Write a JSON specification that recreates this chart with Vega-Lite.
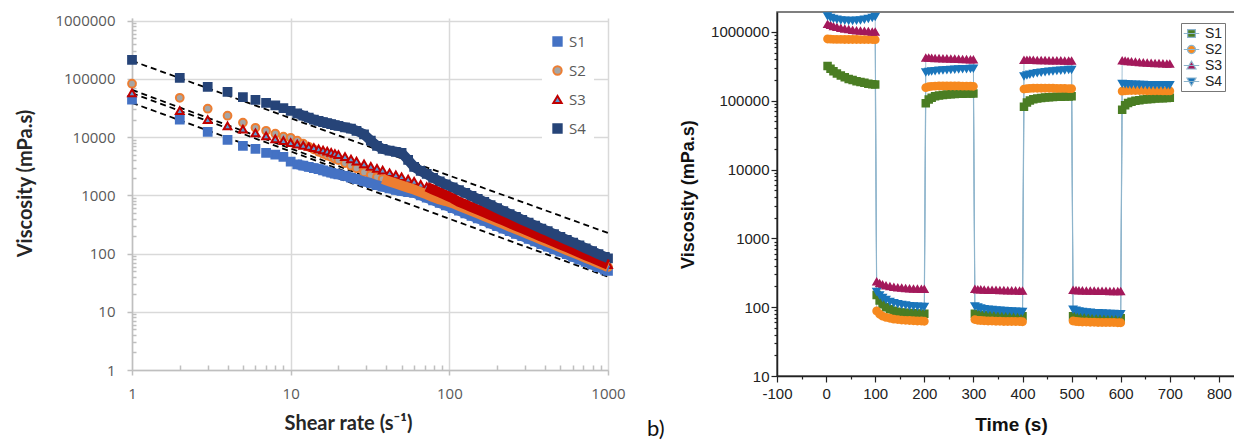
{
  "$schema": "https://vega.github.io/schema/vega-lite/v6.json",
  "background": "white",
  "padding": {"left": 15, "top": 11, "right": 0, "bottom": 0},
  "config": {"view": {"stroke": null}},
  "datasets": {
    "fits": [
      {"f":"F1","x":1,"v":39000},{"f":"F1","x":1000,"v":40},
      {"f":"F2","x":1,"v":65000},{"f":"F2","x":1000,"v":62},
      {"f":"F3","x":1,"v":57000},{"f":"F3","x":1000,"v":57},
      {"f":"F4","x":1,"v":205000},{"f":"F4","x":1000,"v":226}
    ],
    "shear": [
      {"s":"S1","x":1,"v":44000},{"s":"S1","x":2,"v":20000},{"s":"S1","x":3,"v":12300},{"s":"S1","x":4,"v":9000},{"s":"S1","x":5,"v":7100},{"s":"S1","x":6,"v":6300},{"s":"S1","x":7,"v":5400},{"s":"S1","x":8,"v":5000},{"s":"S1","x":9,"v":4600},{"s":"S1","x":10,"v":3800},
      {"s":"S1","x":11,"v":3400},{"s":"S1","x":12,"v":3240},{"s":"S1","x":13,"v":3090},{"s":"S1","x":14,"v":2950},{"s":"S1","x":15,"v":2820},{"s":"S1","x":16,"v":2690},{"s":"S1","x":17,"v":2570},{"s":"S1","x":18,"v":2450},{"s":"S1","x":19,"v":2370},{"s":"S1","x":20,"v":2290},
      {"s":"S1","x":22,"v":2160},{"s":"S1","x":24,"v":2020},{"s":"S1","x":26,"v":1910},{"s":"S1","x":29,"v":1740},{"s":"S1","x":32,"v":1620},{"s":"S1","x":35,"v":1500},{"s":"S1","x":38,"v":1410},{"s":"S1","x":42,"v":1320},{"s":"S1","x":46,"v":1240},{"s":"S1","x":50,"v":1190},
      {"s":"S1","x":55,"v":1140},{"s":"S1","x":60,"v":1110},{"s":"S1","x":66,"v":1000},{"s":"S1","x":72,"v":912},{"s":"S1","x":79,"v":822},{"s":"S1","x":87,"v":741},{"s":"S1","x":95,"v":676},{"s":"S1","x":105,"v":603},{"s":"S1","x":115,"v":545},{"s":"S1","x":126,"v":493},
      {"s":"S1","x":138,"v":446},{"s":"S1","x":151,"v":404},{"s":"S1","x":166,"v":364},{"s":"S1","x":182,"v":329},{"s":"S1","x":200,"v":296},{"s":"S1","x":219,"v":269},{"s":"S1","x":240,"v":243},{"s":"S1","x":263,"v":219},{"s":"S1","x":288,"v":199},{"s":"S1","x":316,"v":179},
      {"s":"S1","x":347,"v":162},{"s":"S1","x":380,"v":146},{"s":"S1","x":417,"v":132},{"s":"S1","x":457,"v":119},{"s":"S1","x":501,"v":108},{"s":"S1","x":550,"v":97.5},{"s":"S1","x":603,"v":88.1},{"s":"S1","x":661,"v":79.6},{"s":"S1","x":724,"v":71.9},{"s":"S1","x":794,"v":65},
      {"s":"S1","x":871,"v":58.7},{"s":"S1","x":955,"v":53.1},{"s":"S1","x":1000,"v":50.5},
      {"s":"S2","x":1,"v":83000},{"s":"S2","x":2,"v":47500},{"s":"S2","x":3,"v":30900},{"s":"S2","x":4,"v":23400},{"s":"S2","x":5,"v":17800},{"s":"S2","x":6,"v":14500},{"s":"S2","x":7,"v":12900},{"s":"S2","x":8,"v":11500},{"s":"S2","x":9,"v":10200},{"s":"S2","x":10,"v":9770},
      {"s":"S2","x":11,"v":8710},{"s":"S2","x":12,"v":7760},{"s":"S2","x":13,"v":6840},{"s":"S2","x":14,"v":6170},{"s":"S2","x":15,"v":5620},{"s":"S2","x":16,"v":5190},{"s":"S2","x":17,"v":4840},{"s":"S2","x":18,"v":4570},{"s":"S2","x":19,"v":4270},{"s":"S2","x":20,"v":4030},
      {"s":"S2","x":22,"v":3590},{"s":"S2","x":24,"v":3240},{"s":"S2","x":26,"v":2920},{"s":"S2","x":29,"v":2510},{"s":"S2","x":32,"v":2240},{"s":"S2","x":35,"v":2070},{"s":"S2","x":38,"v":1910},{"s":"S2","x":42,"v":1740},{"s":"S2","x":46,"v":1600},{"s":"S2","x":50,"v":1480},
      {"s":"S2","x":55,"v":1360},{"s":"S2","x":60,"v":1260},{"s":"S2","x":66,"v":1140},{"s":"S2","x":72,"v":1040},{"s":"S2","x":79,"v":933},{"s":"S2","x":87,"v":851},{"s":"S2","x":95,"v":800},{"s":"S2","x":105,"v":735},{"s":"S2","x":115,"v":664},{"s":"S2","x":126,"v":600},
      {"s":"S2","x":138,"v":541},{"s":"S2","x":151,"v":490},{"s":"S2","x":166,"v":441},{"s":"S2","x":182,"v":397},{"s":"S2","x":200,"v":357},{"s":"S2","x":219,"v":323},{"s":"S2","x":240,"v":291},{"s":"S2","x":263,"v":263},{"s":"S2","x":288,"v":238},{"s":"S2","x":316,"v":214},
      {"s":"S2","x":347,"v":193},{"s":"S2","x":380,"v":174},{"s":"S2","x":417,"v":157},{"s":"S2","x":457,"v":142},{"s":"S2","x":501,"v":128},{"s":"S2","x":550,"v":115},{"s":"S2","x":603,"v":104},{"s":"S2","x":661,"v":93.8},{"s":"S2","x":724,"v":84.5},{"s":"S2","x":794,"v":76.2},
      {"s":"S2","x":871,"v":68.7},{"s":"S2","x":955,"v":61.9},{"s":"S2","x":1000,"v":58.9},
      {"s":"S3","x":1,"v":57900},{"s":"S3","x":2,"v":28500},{"s":"S3","x":3,"v":20000},{"s":"S3","x":4,"v":15700},{"s":"S3","x":5,"v":13800},{"s":"S3","x":6,"v":11900},{"s":"S3","x":7,"v":10500},{"s":"S3","x":8,"v":9330},{"s":"S3","x":9,"v":8710},{"s":"S3","x":10,"v":8040},
      {"s":"S3","x":11,"v":7590},{"s":"S3","x":12,"v":7240},{"s":"S3","x":13,"v":6920},{"s":"S3","x":14,"v":6610},{"s":"S3","x":15,"v":6310},{"s":"S3","x":16,"v":6030},{"s":"S3","x":17,"v":5750},{"s":"S3","x":18,"v":5500},{"s":"S3","x":19,"v":5250},{"s":"S3","x":20,"v":5010},
      {"s":"S3","x":22,"v":4620},{"s":"S3","x":24,"v":4220},{"s":"S3","x":26,"v":3890},{"s":"S3","x":29,"v":3470},{"s":"S3","x":32,"v":3160},{"s":"S3","x":35,"v":2920},{"s":"S3","x":38,"v":2720},{"s":"S3","x":42,"v":2450},{"s":"S3","x":46,"v":2260},{"s":"S3","x":50,"v":2090},
      {"s":"S3","x":55,"v":1910},{"s":"S3","x":60,"v":1740},{"s":"S3","x":66,"v":1550},{"s":"S3","x":72,"v":1410},{"s":"S3","x":79,"v":1260},{"s":"S3","x":87,"v":1120},{"s":"S3","x":95,"v":1010},{"s":"S3","x":105,"v":891},{"s":"S3","x":115,"v":776},{"s":"S3","x":126,"v":700},
      {"s":"S3","x":138,"v":631},{"s":"S3","x":151,"v":568},{"s":"S3","x":166,"v":509},{"s":"S3","x":182,"v":457},{"s":"S3","x":200,"v":411},{"s":"S3","x":219,"v":371},{"s":"S3","x":240,"v":333},{"s":"S3","x":263,"v":300},{"s":"S3","x":288,"v":270},{"s":"S3","x":316,"v":243},
      {"s":"S3","x":347,"v":218},{"s":"S3","x":380,"v":196},{"s":"S3","x":417,"v":177},{"s":"S3","x":457,"v":159},{"s":"S3","x":501,"v":143},{"s":"S3","x":550,"v":129},{"s":"S3","x":603,"v":116},{"s":"S3","x":661,"v":104},{"s":"S3","x":724,"v":93.5},{"s":"S3","x":794,"v":84.1},
      {"s":"S3","x":871,"v":75.7},{"s":"S3","x":955,"v":68.1},{"s":"S3","x":1000,"v":64.6},
      {"s":"S4","x":1,"v":214000},{"s":"S4","x":2,"v":105000},{"s":"S4","x":3,"v":73300},{"s":"S4","x":4,"v":60300},{"s":"S4","x":5,"v":49000},{"s":"S4","x":6,"v":43600},{"s":"S4","x":7,"v":38900},{"s":"S4","x":8,"v":35100},{"s":"S4","x":9,"v":31600},{"s":"S4","x":10,"v":28200},
      {"s":"S4","x":11,"v":25700},{"s":"S4","x":12,"v":23400},{"s":"S4","x":13,"v":21600},{"s":"S4","x":14,"v":20000},{"s":"S4","x":15,"v":19100},{"s":"S4","x":16,"v":18200},{"s":"S4","x":17,"v":17400},{"s":"S4","x":18,"v":16800},{"s":"S4","x":19,"v":16200},{"s":"S4","x":20,"v":15700},
      {"s":"S4","x":22,"v":14800},{"s":"S4","x":24,"v":14000},{"s":"S4","x":26,"v":12900},{"s":"S4","x":29,"v":11200},{"s":"S4","x":32,"v":8710},{"s":"S4","x":35,"v":7080},{"s":"S4","x":38,"v":6310},{"s":"S4","x":42,"v":5890},{"s":"S4","x":46,"v":5620},{"s":"S4","x":50,"v":5370},
      {"s":"S4","x":55,"v":4070},{"s":"S4","x":60,"v":3090},{"s":"S4","x":66,"v":2630},{"s":"S4","x":72,"v":2340},{"s":"S4","x":79,"v":2000},{"s":"S4","x":87,"v":1740},{"s":"S4","x":95,"v":1550},{"s":"S4","x":105,"v":1380},{"s":"S4","x":115,"v":1230},{"s":"S4","x":126,"v":1100},
      {"s":"S4","x":138,"v":977},{"s":"S4","x":151,"v":871},{"s":"S4","x":166,"v":776},{"s":"S4","x":182,"v":684},{"s":"S4","x":200,"v":603},{"s":"S4","x":219,"v":537},{"s":"S4","x":240,"v":479},{"s":"S4","x":263,"v":427},{"s":"S4","x":288,"v":380},{"s":"S4","x":316,"v":339},
      {"s":"S4","x":347,"v":302},{"s":"S4","x":380,"v":269},{"s":"S4","x":417,"v":243},{"s":"S4","x":457,"v":216},{"s":"S4","x":501,"v":193},{"s":"S4","x":550,"v":172},{"s":"S4","x":603,"v":155},{"s":"S4","x":661,"v":138},{"s":"S4","x":724,"v":123},{"s":"S4","x":794,"v":110},
      {"s":"S4","x":871,"v":98},{"s":"S4","x":955,"v":88},{"s":"S4","x":1000,"v":83}
    ],
    "time": [
      {"s":"S1","t":3,"v":320000},{"s":"S1","t":9,"v":292000},{"s":"S1","t":15,"v":269000},{"s":"S1","t":22,"v":249000},{"s":"S1","t":30,"v":233000},{"s":"S1","t":38,"v":219000},{"s":"S1","t":46,"v":208000},{"s":"S1","t":54,"v":200000},{"s":"S1","t":62,"v":192000},{"s":"S1","t":70,"v":187000},{"s":"S1","t":78,"v":182000},{"s":"S1","t":86,"v":177000},{"s":"S1","t":94,"v":174000},{"s":"S1","t":100,"v":172000},
      {"s":"S1","t":103,"v":150},{"s":"S1","t":109,"v":125},{"s":"S1","t":115,"v":110},{"s":"S1","t":122,"v":100},{"s":"S1","t":130,"v":93},{"s":"S1","t":138,"v":89},{"s":"S1","t":146,"v":86},{"s":"S1","t":154,"v":84},{"s":"S1","t":162,"v":83},{"s":"S1","t":170,"v":82},{"s":"S1","t":178,"v":81.5},{"s":"S1","t":186,"v":81},{"s":"S1","t":194,"v":80.5},{"s":"S1","t":200,"v":80},
      {"s":"S1","t":203,"v":92000},{"s":"S1","t":209,"v":104000},{"s":"S1","t":215,"v":111000},{"s":"S1","t":222,"v":116000},{"s":"S1","t":230,"v":119000},{"s":"S1","t":238,"v":121000},{"s":"S1","t":246,"v":123000},{"s":"S1","t":254,"v":124000},{"s":"S1","t":262,"v":125000},{"s":"S1","t":270,"v":126000},{"s":"S1","t":278,"v":126500},{"s":"S1","t":286,"v":127000},{"s":"S1","t":294,"v":127500},{"s":"S1","t":300,"v":128000},
      {"s":"S1","t":303,"v":80},{"s":"S1","t":309,"v":78},{"s":"S1","t":315,"v":77},{"s":"S1","t":322,"v":76.5},{"s":"S1","t":330,"v":76},{"s":"S1","t":338,"v":75.5},{"s":"S1","t":346,"v":75},{"s":"S1","t":354,"v":75},{"s":"S1","t":362,"v":74.5},{"s":"S1","t":370,"v":74.5},{"s":"S1","t":378,"v":74},{"s":"S1","t":386,"v":74},{"s":"S1","t":394,"v":74},{"s":"S1","t":400,"v":74},
      {"s":"S1","t":403,"v":82000},{"s":"S1","t":409,"v":94000},{"s":"S1","t":415,"v":101000},{"s":"S1","t":422,"v":105000},{"s":"S1","t":430,"v":108000},{"s":"S1","t":438,"v":110000},{"s":"S1","t":446,"v":111500},{"s":"S1","t":454,"v":112500},{"s":"S1","t":462,"v":113500},{"s":"S1","t":470,"v":114000},{"s":"S1","t":478,"v":114500},{"s":"S1","t":486,"v":115000},{"s":"S1","t":494,"v":115500},{"s":"S1","t":500,"v":116000},
      {"s":"S1","t":503,"v":74},{"s":"S1","t":509,"v":72.5},{"s":"S1","t":515,"v":72},{"s":"S1","t":522,"v":71.5},{"s":"S1","t":530,"v":71},{"s":"S1","t":538,"v":70.5},{"s":"S1","t":546,"v":70.5},{"s":"S1","t":554,"v":70},{"s":"S1","t":562,"v":70},{"s":"S1","t":570,"v":70},{"s":"S1","t":578,"v":69.5},{"s":"S1","t":586,"v":69.5},{"s":"S1","t":594,"v":69.5},{"s":"S1","t":600,"v":69},
      {"s":"S1","t":603,"v":74000},{"s":"S1","t":609,"v":86000},{"s":"S1","t":615,"v":93000},{"s":"S1","t":622,"v":97000},{"s":"S1","t":630,"v":100000},{"s":"S1","t":638,"v":102000},{"s":"S1","t":646,"v":104000},{"s":"S1","t":654,"v":105500},{"s":"S1","t":662,"v":106500},{"s":"S1","t":670,"v":107500},{"s":"S1","t":678,"v":108500},{"s":"S1","t":686,"v":109000},{"s":"S1","t":694,"v":110000},{"s":"S1","t":700,"v":110500},
      {"s":"S2","t":3,"v":790000},{"s":"S2","t":9,"v":785000},{"s":"S2","t":15,"v":782000},{"s":"S2","t":22,"v":780000},{"s":"S2","t":30,"v":780000},{"s":"S2","t":38,"v":778000},{"s":"S2","t":46,"v":778000},{"s":"S2","t":54,"v":776000},{"s":"S2","t":62,"v":776000},{"s":"S2","t":70,"v":775000},{"s":"S2","t":78,"v":775000},{"s":"S2","t":86,"v":774000},{"s":"S2","t":94,"v":774000},{"s":"S2","t":100,"v":773000},
      {"s":"S2","t":103,"v":88},{"s":"S2","t":109,"v":79},{"s":"S2","t":115,"v":74},{"s":"S2","t":122,"v":71},{"s":"S2","t":130,"v":69},{"s":"S2","t":138,"v":67},{"s":"S2","t":146,"v":66},{"s":"S2","t":154,"v":65},{"s":"S2","t":162,"v":64.5},{"s":"S2","t":170,"v":64},{"s":"S2","t":178,"v":63.5},{"s":"S2","t":186,"v":63},{"s":"S2","t":194,"v":63},{"s":"S2","t":200,"v":62.5},
      {"s":"S2","t":203,"v":155000},{"s":"S2","t":209,"v":160000},{"s":"S2","t":215,"v":162000},{"s":"S2","t":222,"v":163000},{"s":"S2","t":230,"v":164000},{"s":"S2","t":238,"v":164000},{"s":"S2","t":246,"v":164000},{"s":"S2","t":254,"v":164000},{"s":"S2","t":262,"v":164000},{"s":"S2","t":270,"v":164000},{"s":"S2","t":278,"v":163000},{"s":"S2","t":286,"v":163000},{"s":"S2","t":294,"v":163000},{"s":"S2","t":300,"v":162000},
      {"s":"S2","t":303,"v":66},{"s":"S2","t":309,"v":64.5},{"s":"S2","t":315,"v":64},{"s":"S2","t":322,"v":63.5},{"s":"S2","t":330,"v":63},{"s":"S2","t":338,"v":63},{"s":"S2","t":346,"v":62.5},{"s":"S2","t":354,"v":62.5},{"s":"S2","t":362,"v":62},{"s":"S2","t":370,"v":62},{"s":"S2","t":378,"v":62},{"s":"S2","t":386,"v":62},{"s":"S2","t":394,"v":62},{"s":"S2","t":400,"v":61.5},
      {"s":"S2","t":403,"v":148000},{"s":"S2","t":409,"v":150000},{"s":"S2","t":415,"v":151000},{"s":"S2","t":422,"v":152000},{"s":"S2","t":430,"v":152000},{"s":"S2","t":438,"v":152000},{"s":"S2","t":446,"v":152000},{"s":"S2","t":454,"v":152000},{"s":"S2","t":462,"v":152000},{"s":"S2","t":470,"v":151000},{"s":"S2","t":478,"v":151000},{"s":"S2","t":486,"v":151000},{"s":"S2","t":494,"v":150000},{"s":"S2","t":500,"v":150000},
      {"s":"S2","t":503,"v":63},{"s":"S2","t":509,"v":62},{"s":"S2","t":515,"v":61.5},{"s":"S2","t":522,"v":61},{"s":"S2","t":530,"v":61},{"s":"S2","t":538,"v":60.5},{"s":"S2","t":546,"v":60.5},{"s":"S2","t":554,"v":60},{"s":"S2","t":562,"v":60},{"s":"S2","t":570,"v":60},{"s":"S2","t":578,"v":60},{"s":"S2","t":586,"v":60},{"s":"S2","t":594,"v":59.5},{"s":"S2","t":600,"v":59.5},
      {"s":"S2","t":603,"v":138000},{"s":"S2","t":609,"v":140000},{"s":"S2","t":615,"v":141000},{"s":"S2","t":622,"v":141000},{"s":"S2","t":630,"v":141000},{"s":"S2","t":638,"v":141000},{"s":"S2","t":646,"v":141000},{"s":"S2","t":654,"v":140000},{"s":"S2","t":662,"v":140000},{"s":"S2","t":670,"v":140000},{"s":"S2","t":678,"v":140000},{"s":"S2","t":686,"v":139000},{"s":"S2","t":694,"v":139000},{"s":"S2","t":700,"v":139000},
      {"s":"S3","t":3,"v":1300000},{"s":"S3","t":9,"v":1250000},{"s":"S3","t":15,"v":1208000},{"s":"S3","t":22,"v":1169000},{"s":"S3","t":30,"v":1138000},{"s":"S3","t":38,"v":1109000},{"s":"S3","t":46,"v":1084000},{"s":"S3","t":54,"v":1064000},{"s":"S3","t":62,"v":1047000},{"s":"S3","t":70,"v":1035000},{"s":"S3","t":78,"v":1023000},{"s":"S3","t":86,"v":1014000},{"s":"S3","t":94,"v":1005000},{"s":"S3","t":100,"v":1000000},
      {"s":"S3","t":103,"v":235},{"s":"S3","t":109,"v":222},{"s":"S3","t":115,"v":213},{"s":"S3","t":122,"v":206},{"s":"S3","t":130,"v":200},{"s":"S3","t":138,"v":196},{"s":"S3","t":146,"v":192},{"s":"S3","t":154,"v":190},{"s":"S3","t":162,"v":188},{"s":"S3","t":170,"v":186},{"s":"S3","t":178,"v":185},{"s":"S3","t":186,"v":184},{"s":"S3","t":194,"v":183},{"s":"S3","t":200,"v":182},
      {"s":"S3","t":203,"v":420000},{"s":"S3","t":209,"v":418000},{"s":"S3","t":215,"v":416000},{"s":"S3","t":222,"v":414000},{"s":"S3","t":230,"v":412000},{"s":"S3","t":238,"v":410000},{"s":"S3","t":246,"v":408000},{"s":"S3","t":254,"v":406000},{"s":"S3","t":262,"v":404000},{"s":"S3","t":270,"v":402000},{"s":"S3","t":278,"v":400000},{"s":"S3","t":286,"v":398000},{"s":"S3","t":294,"v":396000},{"s":"S3","t":300,"v":394000},
      {"s":"S3","t":303,"v":182},{"s":"S3","t":309,"v":180},{"s":"S3","t":315,"v":179},{"s":"S3","t":322,"v":178},{"s":"S3","t":330,"v":177},{"s":"S3","t":338,"v":176.5},{"s":"S3","t":346,"v":176},{"s":"S3","t":354,"v":175.5},{"s":"S3","t":362,"v":175},{"s":"S3","t":370,"v":174.5},{"s":"S3","t":378,"v":174},{"s":"S3","t":386,"v":173.5},{"s":"S3","t":394,"v":173},{"s":"S3","t":400,"v":173},
      {"s":"S3","t":403,"v":390000},{"s":"S3","t":409,"v":390000},{"s":"S3","t":415,"v":389000},{"s":"S3","t":422,"v":388000},{"s":"S3","t":430,"v":387000},{"s":"S3","t":438,"v":386000},{"s":"S3","t":446,"v":385000},{"s":"S3","t":454,"v":384000},{"s":"S3","t":462,"v":383000},{"s":"S3","t":470,"v":382000},{"s":"S3","t":478,"v":381000},{"s":"S3","t":486,"v":380000},{"s":"S3","t":494,"v":379000},{"s":"S3","t":500,"v":378000},
      {"s":"S3","t":503,"v":176},{"s":"S3","t":509,"v":175},{"s":"S3","t":515,"v":174},{"s":"S3","t":522,"v":173.5},{"s":"S3","t":530,"v":173},{"s":"S3","t":538,"v":172.5},{"s":"S3","t":546,"v":172},{"s":"S3","t":554,"v":171.5},{"s":"S3","t":562,"v":171},{"s":"S3","t":570,"v":170.5},{"s":"S3","t":578,"v":170},{"s":"S3","t":586,"v":170},{"s":"S3","t":594,"v":169.5},{"s":"S3","t":600,"v":169},
      {"s":"S3","t":603,"v":382000},{"s":"S3","t":609,"v":378000},{"s":"S3","t":615,"v":374000},{"s":"S3","t":622,"v":370000},{"s":"S3","t":630,"v":366000},{"s":"S3","t":638,"v":362000},{"s":"S3","t":646,"v":359000},{"s":"S3","t":654,"v":356000},{"s":"S3","t":662,"v":353000},{"s":"S3","t":670,"v":350000},{"s":"S3","t":678,"v":348000},{"s":"S3","t":686,"v":346000},{"s":"S3","t":694,"v":344000},{"s":"S3","t":700,"v":342000},
      {"s":"S4","t":3,"v":1700000},{"s":"S4","t":9,"v":1620000},{"s":"S4","t":15,"v":1560000},{"s":"S4","t":22,"v":1520000},{"s":"S4","t":30,"v":1490000},{"s":"S4","t":38,"v":1470000},{"s":"S4","t":46,"v":1460000},{"s":"S4","t":54,"v":1460000},{"s":"S4","t":62,"v":1470000},{"s":"S4","t":70,"v":1490000},{"s":"S4","t":78,"v":1520000},{"s":"S4","t":86,"v":1560000},{"s":"S4","t":94,"v":1620000},{"s":"S4","t":100,"v":1680000},
      {"s":"S4","t":103,"v":168},{"s":"S4","t":109,"v":150},{"s":"S4","t":115,"v":138},{"s":"S4","t":122,"v":129},{"s":"S4","t":130,"v":121},{"s":"S4","t":138,"v":116},{"s":"S4","t":146,"v":112},{"s":"S4","t":154,"v":109},{"s":"S4","t":162,"v":107},{"s":"S4","t":170,"v":105},{"s":"S4","t":178,"v":104},{"s":"S4","t":186,"v":103},{"s":"S4","t":194,"v":102},{"s":"S4","t":200,"v":102},
      {"s":"S4","t":203,"v":262000},{"s":"S4","t":209,"v":266000},{"s":"S4","t":215,"v":270000},{"s":"S4","t":222,"v":273000},{"s":"S4","t":230,"v":276000},{"s":"S4","t":238,"v":279000},{"s":"S4","t":246,"v":282000},{"s":"S4","t":254,"v":284000},{"s":"S4","t":262,"v":286000},{"s":"S4","t":270,"v":288000},{"s":"S4","t":278,"v":290000},{"s":"S4","t":286,"v":292000},{"s":"S4","t":294,"v":294000},{"s":"S4","t":300,"v":296000},
      {"s":"S4","t":303,"v":104},{"s":"S4","t":309,"v":100},{"s":"S4","t":315,"v":97},{"s":"S4","t":322,"v":95},{"s":"S4","t":330,"v":93},{"s":"S4","t":338,"v":92},{"s":"S4","t":346,"v":91},{"s":"S4","t":354,"v":90},{"s":"S4","t":362,"v":89},{"s":"S4","t":370,"v":88.5},{"s":"S4","t":378,"v":88},{"s":"S4","t":386,"v":87},{"s":"S4","t":394,"v":86.5},{"s":"S4","t":400,"v":86},
      {"s":"S4","t":403,"v":228000},{"s":"S4","t":409,"v":236000},{"s":"S4","t":415,"v":243000},{"s":"S4","t":422,"v":249000},{"s":"S4","t":430,"v":255000},{"s":"S4","t":438,"v":260000},{"s":"S4","t":446,"v":264000},{"s":"S4","t":454,"v":268000},{"s":"S4","t":462,"v":271000},{"s":"S4","t":470,"v":274000},{"s":"S4","t":478,"v":277000},{"s":"S4","t":486,"v":280000},{"s":"S4","t":494,"v":283000},{"s":"S4","t":500,"v":285000},
      {"s":"S4","t":503,"v":93},{"s":"S4","t":509,"v":90},{"s":"S4","t":515,"v":88},{"s":"S4","t":522,"v":86.5},{"s":"S4","t":530,"v":85},{"s":"S4","t":538,"v":84},{"s":"S4","t":546,"v":83},{"s":"S4","t":554,"v":82.5},{"s":"S4","t":562,"v":82},{"s":"S4","t":570,"v":81.5},{"s":"S4","t":578,"v":81},{"s":"S4","t":586,"v":80.5},{"s":"S4","t":594,"v":80},{"s":"S4","t":600,"v":80},
      {"s":"S4","t":603,"v":178000},{"s":"S4","t":609,"v":176000},{"s":"S4","t":615,"v":175000},{"s":"S4","t":622,"v":174000},{"s":"S4","t":630,"v":173000},{"s":"S4","t":638,"v":172000},{"s":"S4","t":646,"v":172000},{"s":"S4","t":654,"v":171000},{"s":"S4","t":662,"v":171000},{"s":"S4","t":670,"v":171000},{"s":"S4","t":678,"v":170000},{"s":"S4","t":686,"v":170000},{"s":"S4","t":694,"v":170000},{"s":"S4","t":700,"v":170000}
    ]
  },
  "hconcat": [
    {
      "width": 476,
      "height": 352,
      "encoding": {
        "x": {
          "field": "x", "type": "quantitative",
          "scale": {"type": "log", "domain": [1, 1000], "nice": false},
          "axis": {
            "title": "Shear rate (s⁻¹)",
            "values": [1,2,3,4,5,6,7,8,9,10,20,30,40,50,60,70,80,90,100,200,300,400,500,600,700,800,900,1000],
            "labelExpr": "indexof([1,10,100,1000], datum.value) >= 0 ? toString(datum.value) : ''",
            "labelOverlap": false, "labelFlush": false,
            "labelFont": "Open Sans", "labelFontSize": 15, "labelColor": "#595959", "labelPadding": 11,
            "tickSize": {"condition": {"test": "indexof([1,10,100,1000], datum.value) >= 0", "value": 5}, "value": -5},
            "tickColor": "#bfbfbf", "tickWidth": 1.5,
            "domainColor": "#bfbfbf", "domainWidth": 1.5,
            "grid": true, "gridColor": "#d9d9d9", "gridWidth": 1.5,
            "gridOpacity": {"condition": {"test": "indexof([1,10,100,1000], datum.value) >= 0", "value": 1}, "value": 0},
            "titleFont": "Lato", "titleFontSize": 20, "titleFontWeight": "bold", "titleColor": "#262626",
            "titleX": 216, "titleY": 59, "titleBaseline": "alphabetic"
          }
        },
        "y": {
          "field": "v", "type": "quantitative",
          "scale": {"type": "log", "domain": [1, 1117000], "nice": false},
          "axis": {
            "title": "Viscosity (mPa.s)",
            "values": [1,2,3,4,5,6,7,8,9,10,20,30,40,50,60,70,80,90,100,200,300,400,500,600,700,800,900,1000,2000,3000,4000,5000,6000,7000,8000,9000,10000,20000,30000,40000,50000,60000,70000,80000,90000,100000,200000,300000,400000,500000,600000,700000,800000,900000,1000000],
            "labelExpr": "indexof([1,10,100,1000,10000,100000,1000000], datum.value) >= 0 ? toString(datum.value) : ''",
            "labelOverlap": false, "labelFlush": false,
            "labelFont": "Open Sans", "labelFontSize": 15, "labelColor": "#595959", "labelPadding": 12,
            "tickSize": {"condition": {"test": "indexof([1,10,100,1000,10000,100000,1000000], datum.value) >= 0", "value": 5}, "value": -4},
            "tickColor": "#bfbfbf", "tickWidth": 1.5,
            "domainColor": "#bfbfbf", "domainWidth": 1.5,
            "grid": true, "gridColor": "#d9d9d9", "gridWidth": 1.5,
            "gridOpacity": {"condition": {"test": "indexof([1,10,100,1000,10000,100000,1000000], datum.value) >= 0", "value": 1}, "value": 0},
            "titleFont": "Lato", "titleFontSize": 20, "titleFontWeight": "bold", "titleColor": "#262626",
            "titleX": -107, "titleY": 165, "titleBaseline": "middle"
          }
        }
      },
      "layer": [
        {
          "data": {"name": "fits"},
          "mark": {"type": "line", "strokeDash": [6, 4], "strokeWidth": 1.8, "color": "#000000"},
          "encoding": {"detail": {"field": "f", "type": "nominal"}}
        },
        {
          "data": {"name": "shear"},
          "mark": {"type": "point", "size": 60, "strokeWidth": 2, "opacity": 1, "fillOpacity": 1},
          "encoding": {
            "fill": {
              "field": "s", "type": "nominal",
              "scale": {"domain": ["S1","S2","S3","S4"], "range": ["#4472c4","#a5a5a5","#5b9bd5","#264478"]},
              "legend": {
                "orient": "none", "legendX": 410, "legendY": 8, "title": null,
                "padding": 8, "fillColor": "white",
                "labelFont": "Open Sans", "labelFontSize": 15, "labelColor": "#595959",
                "symbolSize": 70, "symbolStrokeWidth": 2, "rowPadding": 12, "labelOffset": 4
              }
            },
            "stroke": {
              "field": "s", "type": "nominal",
              "scale": {"domain": ["S1","S2","S3","S4"], "range": ["#4472c4","#ed7d31","#c00000","#264478"]}
            },
            "shape": {
              "field": "s", "type": "nominal",
              "scale": {"domain": ["S1","S2","S3","S4"], "range": ["square","circle","triangle-up","square"]}
            }
          }
        },
        {
          "data": {"name": "shear"},
          "transform": [{"filter": "((datum.s == 'S1' || datum.s == 'S4') && datum.x >= 11) || (datum.s == 'S2' && datum.x >= 38) || (datum.s == 'S3' && datum.x >= 72)"}],
          "mark": {"type": "line", "strokeWidth": 10, "strokeJoin": "round"},
          "encoding": {
            "color": {"field": "s", "type": "nominal", "scale": {"domain": ["S1","S2","S3","S4"], "range": ["#4472c4","#ed7d31","#c00000","#264478"]}, "legend": null}
          }
        }
      ]
    },
    {
      "width": 491,
      "height": 364,
      "view": {"stroke": "#555555", "strokeWidth": 1.5},
      "title": {"text": "b)", "orient": "bottom", "anchor": "start", "frame": "group", "dx": -130, "offset": -15, "font": "Lato", "fontSize": 22, "fontWeight": "normal", "color": "#111111"},
      "encoding": {
        "x": {
          "field": "t", "type": "quantitative",
          "scale": {"domain": [-100, 900], "nice": false},
          "axis": {
            "title": "Time (s)",
            "values": [-100,-50,0,50,100,150,200,250,300,350,400,450,500,550,600,650,700,750,800,850,900],
            "labelExpr": "datum.value % 100 == 0 && datum.value < 900 ? toString(datum.value) : ''",
            "labelOverlap": false, "labelFlush": false,
            "labelFont": "Liberation Sans", "labelFontSize": 15, "labelColor": "#222222", "labelPadding": 4,
            "tickSize": {"condition": {"test": "datum.value % 100 == 0", "value": 6}, "value": 3},
            "tickColor": "#222222", "tickWidth": 1.2,
            "domainColor": "#222222", "domainWidth": 1.5, "grid": false,
            "titleFont": "Liberation Sans", "titleFontSize": 19, "titleFontWeight": "bold", "titleColor": "#111111",
            "titleX": 234, "titleY": 54, "titleBaseline": "alphabetic"
          }
        },
        "y": {
          "field": "v", "type": "quantitative",
          "scale": {"type": "log", "domain": [10, 1950000], "nice": false},
          "axis": {
            "title": "Viscosity (mPa.s)",
            "values": [10,20,30,40,50,60,70,80,90,100,200,300,400,500,600,700,800,900,1000,2000,3000,4000,5000,6000,7000,8000,9000,10000,20000,30000,40000,50000,60000,70000,80000,90000,100000,200000,300000,400000,500000,600000,700000,800000,900000,1000000],
            "labelExpr": "indexof([10,100,1000,10000,100000,1000000], datum.value) >= 0 ? toString(datum.value) : ''",
            "labelOverlap": false, "labelFlush": false,
            "labelFont": "Liberation Sans", "labelFontSize": 15, "labelColor": "#222222", "labelPadding": 2,
            "tickSize": {"condition": {"test": "indexof([10,100,1000,10000,100000,1000000], datum.value) >= 0", "value": 6}, "value": 3},
            "tickColor": "#222222", "tickWidth": 1.2,
            "domainColor": "#222222", "domainWidth": 1.5, "grid": false,
            "titleFont": "Liberation Sans", "titleFontSize": 18, "titleFontWeight": "bold", "titleColor": "#111111",
            "titleX": -89, "titleY": 182, "titleBaseline": "middle"
          }
        }
      },
      "layer": [
        {
          "data": {"name": "time"},
          "mark": {"type": "line", "strokeWidth": 1, "opacity": 0.8, "clip": true},
          "encoding": {
            "stroke": {
              "field": "s", "type": "nominal",
              "scale": {"domain": ["S1","S2","S3","S4"], "range": ["#8db4cc","#8db4cc","#8db4cc","#8db4cc"]},
              "legend": {
                "orient": "none", "legendX": 404, "legendY": 11, "title": null,
                "padding": 2, "strokeColor": "#777777",
                "labelFont": "Liberation Sans", "labelFontSize": 14, "labelColor": "#222222",
                "labelExpr": "datum.label + '      '",
                "symbolSize": 240, "symbolStrokeWidth": 1.2, "symbolOpacity": 1,
                "rowPadding": 0, "labelOffset": 5
              }
            }
          }
        },
        {
          "data": {"name": "time"},
          "mark": {"type": "point", "filled": true, "size": 289, "strokeWidth": 0, "opacity": 1, "clip": true},
          "encoding": {
            "fill": {
              "field": "s", "type": "nominal",
              "scale": {"domain": ["S1","S2","S3","S4"], "range": ["#4a7d23","#f6891f","#a3195b","#1a75bb"]}
            },
            "shape": {
              "field": "s", "type": "nominal",
              "scale": {"domain": ["S1","S2","S3","S4"], "range": ["M-1,0H1M-0.5,-0.5H0.5V0.5H-0.5Z","M-1,0H1M-0.52,0A0.52,0.52,0,1,0,0.52,0A0.52,0.52,0,1,0,-0.52,0Z","M-1,0H1M0,-0.55L0.58,0.45H-0.58Z","M-1,0H1M0,0.55L0.58,-0.45H-0.58Z"]}
            }
          }
        }
      ]
    }
  ],
  "spacing": 169,
  "bounds": "flush",
  "center": true,
  "resolve": {"scale": {"fill": "independent", "stroke": "independent", "shape": "independent", "color": "independent"}}
}
